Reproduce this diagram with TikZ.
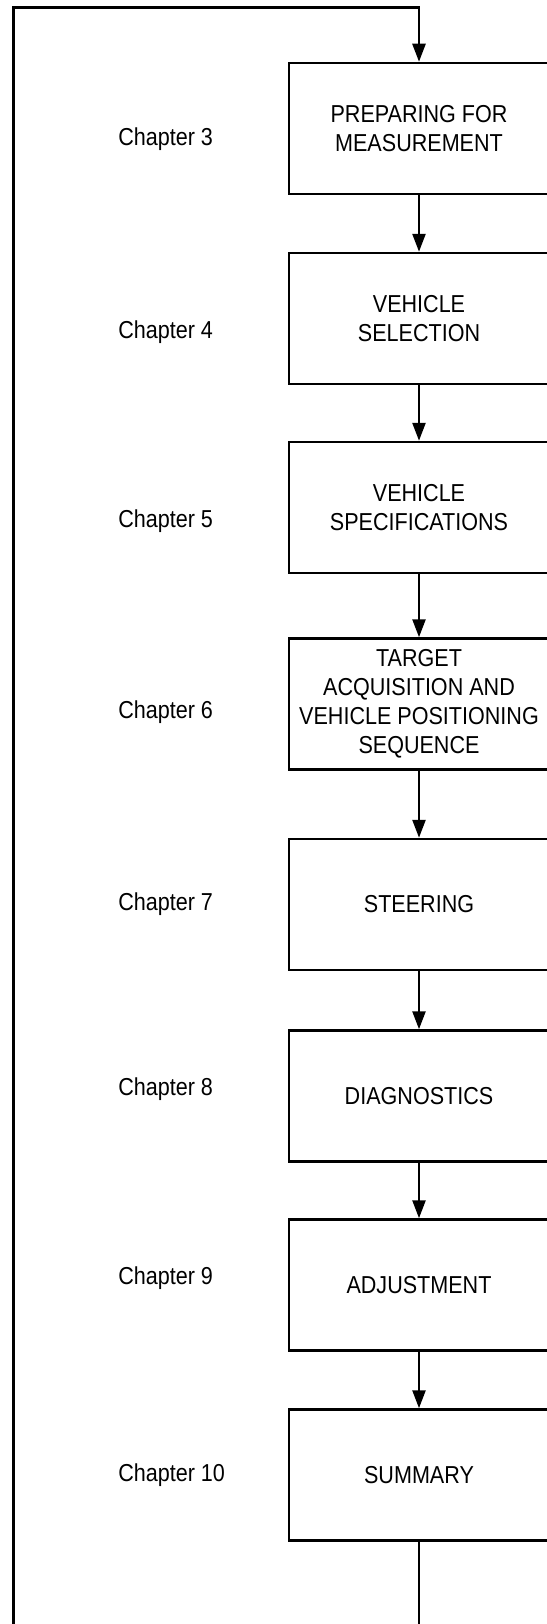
\documentclass[tikz,border=0pt]{standalone}
\usepackage{fontspec}
\setmainfont{Liberation Sans}[FakeStretch=0.88]
\usetikzlibrary{arrows.meta}

\begin{document}
\begin{tikzpicture}[x=1pt,y=-1pt,>={Triangle[length=18pt,width=13pt]},line width=2.5pt]

\tikzset{%
every stage/.style={
draw,
minimum width=260pt,
minimum height=131pt,
inner sep=0pt,
align=center,
font=\fontsize{24.5}{29}\selectfont
},
chapter label/.style={
anchor=west,
inner sep=0pt,
font=\fontsize{24.5}{29}\selectfont
},
}

\useasboundingbox (0,0) rectangle (546,1624);

% Process stage boxes
\foreach \t/\y [count=\i] in {{PREPARING FOR\\MEASUREMENT}/128.5,
{VEHICLE\\SELECTION}/318.5, {VEHICLE\\SPECIFICATIONS}/507.5,
{TARGET\\ACQUISITION AND\\VEHICLE POSITIONING\\SEQUENCE}/704,
{STEERING}/904.5, {DIAGNOSTICS}/1096, {ADJUSTMENT}/1285, {SUMMARY}/1475}
\node [every stage] (stage-\i) at (419,\y) {\t};

% Chapter labels left of the boxes
\foreach \c/\y [count=\i] in {3/139, 4/332, 5/521, 6/712, 7/904.5, 8/1089, 9/1278, 10/1475}
\node [chapter label] (chapter-\i) at (117,\y) {Chapter \c};

% Arrows between stages
\foreach \a/\b in {1/2,2/3,3/4,4/5,5/6,6/7,7/8}
\draw [->] (stage-\a) -- (stage-\b);

% Loop back from the end to the first stage
\coordinate (loop-bottom) at (13.5,1630);
\coordinate (loop-top) at (419,7.5);
\coordinate (exit) at (419,1630);
\draw [->] (loop-bottom) |- (loop-top) -- (stage-1.north);
\draw (stage-8.south) -- (exit);

%\draw (exit) -- (loop-bottom);

\end{tikzpicture}
\end{document}
